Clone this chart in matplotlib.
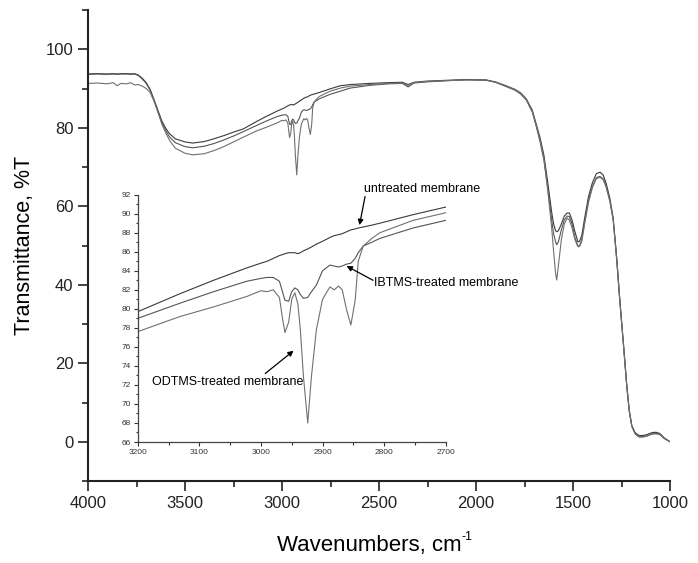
import numpy as np
import matplotlib
matplotlib.use('Agg')
import matplotlib.pyplot as plt
from matplotlib.ticker import MultipleLocator

plt.rcParams['font.family'] = ['Liberation Sans', 'DejaVu Sans']

# wavenumbers (cm-1) and transmittance (%T) for the three membranes
wn = [4000, 3950, 3900, 3870, 3850, 3830, 3800, 3780, 3760, 3740, 3720, 3700,
      3680, 3660, 3640, 3620, 3600, 3580, 3550, 3500, 3460, 3400, 3350, 3300,
      3250, 3200, 3131, 3077, 3023, 3000, 2990, 2980, 2970, 2965, 2961, 2955,
      2950, 2945, 2940, 2936, 2931, 2924, 2918, 2910, 2900, 2888, 2881, 2874,
      2868, 2861, 2854, 2847, 2842, 2834, 2820, 2807, 2753, 2700, 2650, 2550,
      2450, 2380, 2350, 2320, 2250, 2150, 2050, 1950, 1900, 1850, 1800, 1770,
      1740, 1710, 1690, 1670, 1650, 1630, 1610, 1600, 1590, 1584, 1575, 1560,
      1545, 1530, 1519, 1505, 1490, 1475, 1467, 1455, 1440, 1420, 1400, 1380,
      1361, 1345, 1330, 1310, 1293, 1275, 1258, 1240, 1223, 1210, 1197, 1180,
      1160, 1140, 1120, 1100, 1086, 1070, 1052, 1030, 1000]

untreated = [93.7, 93.8, 93.7, 93.8, 93.7, 93.8, 93.8, 93.7, 93.8, 93.4, 92.6, 91.5,
             89.8, 87.2, 84.5, 81.8, 79.9, 78.5, 77.2, 76.4, 76.1, 76.5, 77.2, 78.0,
             78.9, 79.7, 81.6, 83.0, 84.3, 84.8, 85.0, 85.3, 85.6, 85.7, 85.8, 85.9,
             85.9, 85.9, 85.8, 85.9, 86.1, 86.3, 86.5, 86.8, 87.1, 87.5, 87.7, 87.8,
             87.9, 88.1, 88.3, 88.4, 88.5, 88.6, 88.8, 89.0, 89.9, 90.7, 91.0, 91.3,
             91.5, 91.6, 91.0, 91.6, 91.9, 92.1, 92.3, 92.2, 91.7, 90.8, 89.8, 88.9,
             87.3, 84.5, 81.0, 77.5, 73.0, 66.0, 58.5, 55.5, 53.8, 53.5, 53.8, 55.5,
             57.5, 58.3, 58.3, 56.5, 53.5, 51.0, 51.0, 52.5, 57.0, 62.5, 66.0, 68.3,
             68.7, 68.0, 66.0, 62.0, 57.0, 47.0, 35.7, 25.0, 14.5, 8.0, 4.2, 2.3,
             1.6, 1.6, 1.8, 2.2, 2.4, 2.4, 2.1, 1.0, 0.0]

ibtms = [93.6, 93.7, 93.6, 93.7, 93.6, 93.7, 93.7, 93.6, 93.7, 93.3, 92.4, 91.3,
         89.6, 87.0, 84.2, 81.4, 79.3, 77.7, 76.2, 75.2, 74.9, 75.3, 76.0, 76.9,
         77.9, 79.0, 80.6, 81.8, 82.9, 83.2, 83.3, 83.3, 82.9, 81.8, 80.9, 80.8,
         81.8, 82.2, 82.0, 81.5, 81.1, 81.2, 81.8, 82.5, 84.0, 84.6, 84.5, 84.4,
         84.5, 84.7, 84.8, 85.3, 85.9, 86.6, 87.0, 87.4, 88.5, 89.3, 90.1, 90.8,
         91.2, 91.3, 90.4, 91.4, 91.7, 92.0, 92.2, 92.1, 91.6, 90.6, 89.6, 88.6,
         87.0, 84.0, 80.5, 76.5, 71.8, 64.5, 56.5, 53.0, 51.0, 50.2, 51.0, 54.0,
         56.5, 57.5, 57.4, 55.5, 52.0, 50.0, 49.8, 51.5, 56.0, 61.5, 65.0, 67.3,
         67.6, 67.0, 65.3, 61.5, 56.7, 46.7, 35.5, 24.8, 14.3, 7.8, 4.0, 2.1,
         1.3, 1.3, 1.5, 1.9, 2.1, 2.1, 1.9, 0.9, 0.0]

odtms = [91.3, 91.4, 91.2, 91.5, 90.7, 91.3, 91.2, 91.5, 90.9, 91.0, 90.6, 90.0,
         89.0, 86.8, 84.0, 81.0, 78.8, 76.8, 74.8, 73.5, 73.1, 73.4, 74.2, 75.2,
         76.4, 77.6, 79.2, 80.2, 81.3, 81.9, 81.8, 82.0, 81.2, 79.0, 77.5, 78.6,
         81.0, 81.7, 80.5, 77.8, 72.9, 68.0, 72.9, 77.8, 81.0, 82.3, 82.0, 82.4,
         82.0, 79.9, 78.3, 80.9, 85.0, 86.6, 87.4, 88.0, 89.3, 90.1, 90.6, 91.0,
         91.3, 91.4, 90.8, 91.5, 91.8, 92.0, 92.2, 92.2, 91.6, 90.7, 89.7, 88.8,
         87.1, 84.2, 80.6, 76.8, 72.0, 64.0, 54.5, 48.5, 43.0, 41.2, 45.0, 51.5,
         55.5, 57.0, 56.5, 54.5, 51.5, 49.7, 49.7, 51.0, 55.5, 61.0, 64.8, 67.0,
         67.4, 66.8, 65.0, 61.2, 56.5, 46.5, 35.3, 24.6, 14.2, 7.7, 3.9, 2.0,
         1.2, 1.2, 1.4, 1.8, 2.0, 2.0, 1.8, 0.8, 0.0]

series = [untreated, ibtms, odtms]
colors = ['#3a3a3a', '#555555', '#707070']

fig = plt.figure(figsize=(6.98, 5.63), dpi=100)

# main spectrum
ax = fig.add_axes([0.1261, 0.1456, 0.8338, 0.8366])
for vals, c in zip(series, colors):
    ax.plot(wn, vals, color=c, lw=0.8)
ax.set_xlim(4000, 1000)
ax.set_ylim(-10, 110)
ax.xaxis.set_major_locator(MultipleLocator(500))
ax.xaxis.set_minor_locator(MultipleLocator(250))
ax.yaxis.set_minor_locator(MultipleLocator(10))
ax.set_yticks([0, 20, 40, 60, 80, 100])
ax.spines['top'].set_visible(False)
ax.spines['right'].set_visible(False)
for s in ['left', 'bottom']:
    ax.spines[s].set_linewidth(1.5)
    ax.spines[s].set_color('#222222')
ax.tick_params(which='major', direction='out', length=7, width=1.2,
               labelsize=12, colors='#222222')
ax.tick_params(which='minor', direction='out', length=4, width=1.2,
               colors='#222222')
ax.set_xlabel('Wavenumbers, cm', fontsize=16, labelpad=14)
ax.xaxis.set_label_coords(0.483, -0.115)
ax.set_ylabel('Transmittance, %T', fontsize=15.5, labelpad=8)
# superscript "-1" with a plain hyphen, placed at the end of the x label
ax.annotate('-1', xy=(1.0, 0.92), xycoords=ax.xaxis.label, fontsize=9,
            ha='left', va='center')

# inset: C-H stretching region
ins = fig.add_axes([0.1973, 0.2149, 0.4413, 0.4393])
for vals, c in zip(series, colors):
    ins.plot(wn, vals, color=c, lw=0.8)
ins.set_xlim(3200, 2700)
ins.set_ylim(66, 92)
ins.xaxis.set_major_locator(MultipleLocator(100))
ins.xaxis.set_minor_locator(MultipleLocator(50))
ins.yaxis.set_major_locator(MultipleLocator(2))
ins.yaxis.set_minor_locator(MultipleLocator(1))
ins.patch.set_alpha(0)
ins.spines['top'].set_visible(False)
ins.spines['right'].set_visible(False)
for s in ['left', 'bottom']:
    ins.spines[s].set_linewidth(0.9)
    ins.spines[s].set_color('#444444')
ins.tick_params(which='major', direction='out', length=3, width=0.8,
                labelsize=6, colors='#333333', pad=2)
ins.tick_params(which='minor', direction='out', length=1.8, width=0.8,
                colors='#333333')

arrow = dict(arrowstyle='-|>', color='black', lw=0.9, mutation_scale=8,
             shrinkA=0, shrinkB=0)
ins.text(2833, 92.0, 'untreated membrane', fontsize=9, ha='left', va='bottom',
         clip_on=False)
ins.annotate('', xy=(2840, 88.8), xytext=(2831, 91.8), arrowprops=arrow,
             annotation_clip=False)
ins.text(2817, 82.75, 'IBTMS-treated membrane', fontsize=9, ha='left',
         va='center')
ins.annotate('', xy=(2861, 84.5), xytext=(2818, 83.0), arrowprops=arrow)
ins.text(3177, 72.3, 'ODTMS-treated membrane', fontsize=9, ha='left',
         va='center')
ins.annotate('', xy=(2947, 75.6), xytext=(2993, 73.2), arrowprops=arrow)

fig.savefig('out.png', dpi=100)
